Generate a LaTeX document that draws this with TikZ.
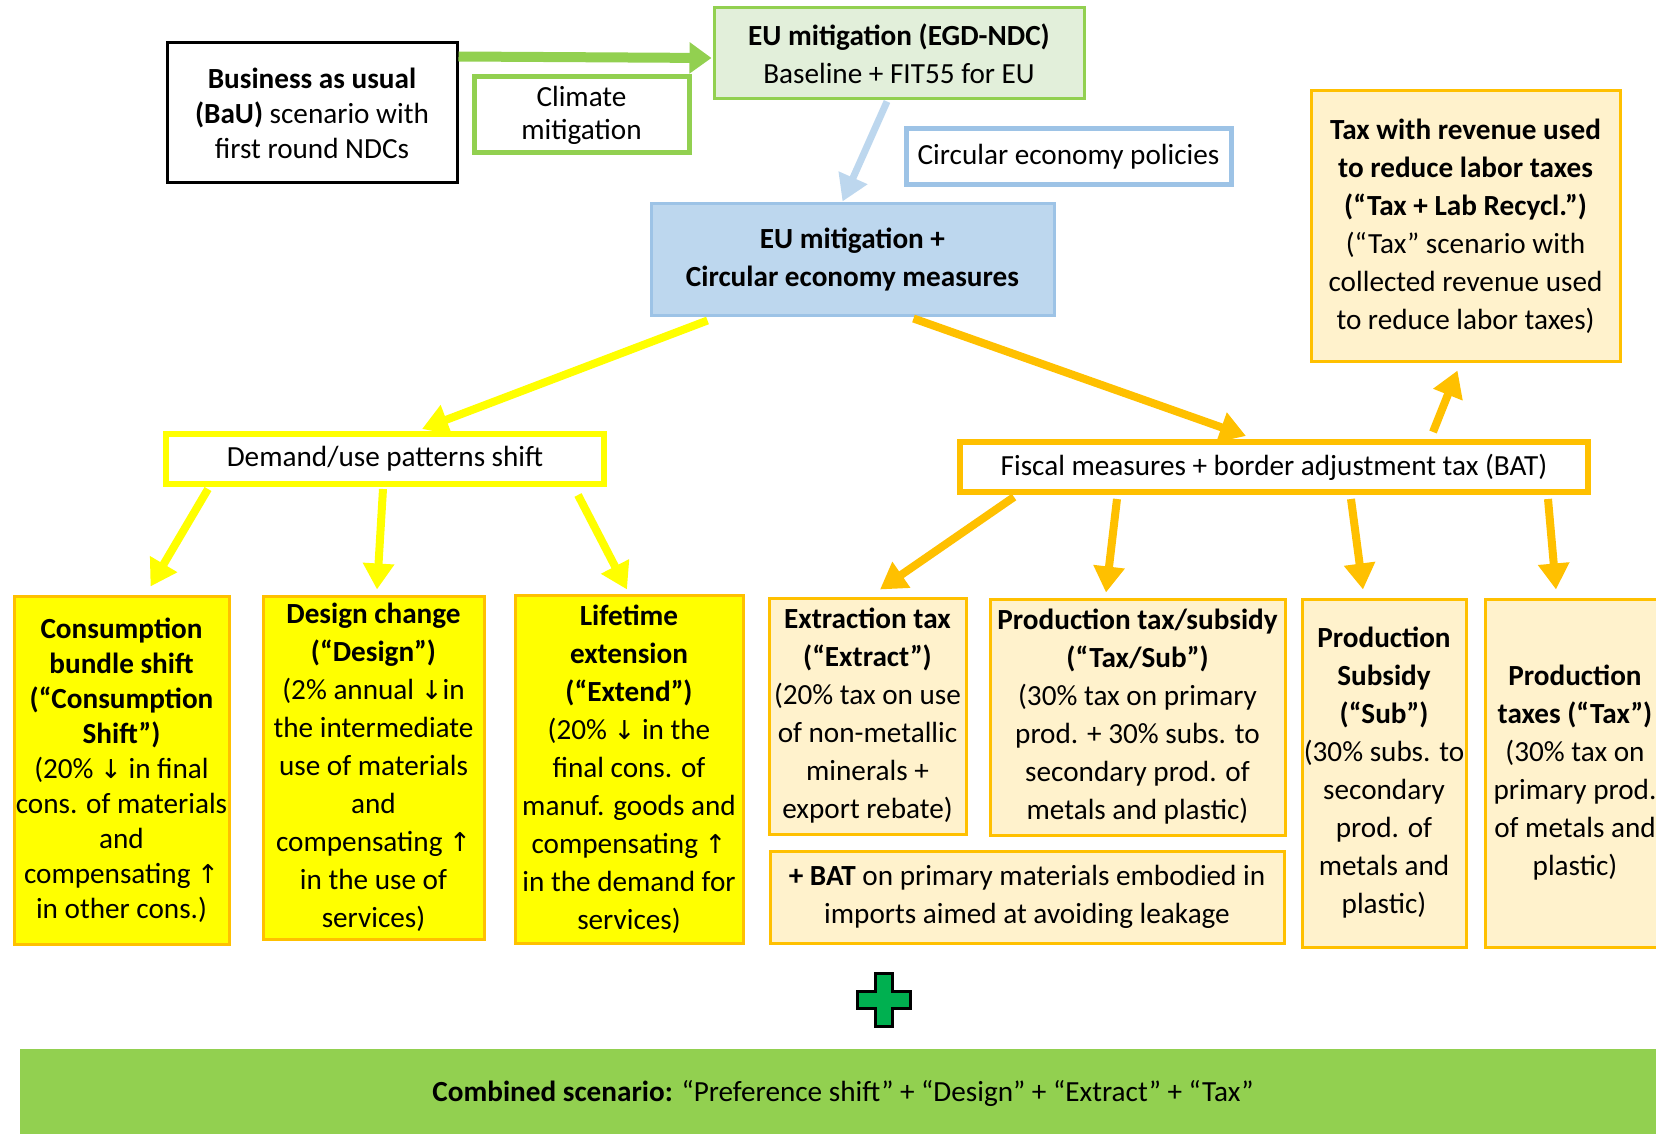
\documentclass[tikz,border=0pt]{standalone}
\usepackage{fontspec}
\setmainfont{Carlito}
\newfontfamily\arw{DejaVu Sans}
\usetikzlibrary{arrows.meta,calc}
\definecolor{cgreen}{HTML}{92D050}
\definecolor{cgreenfill}{HTML}{E2EFDA}
\definecolor{cblue}{HTML}{9DC3E6}
\definecolor{cbluefill}{HTML}{BDD7EE}
\definecolor{cyellow}{HTML}{FFFF00}
\definecolor{corange}{HTML}{FFC000}
\definecolor{corangefill}{HTML}{FFF2CC}
\definecolor{cplus}{HTML}{00B050}
\newcommand{\fsA}{\fontsize{14.6}{19}\selectfont}
\newcommand{\fsB}{\fontsize{14.6}{17.5}\selectfont}
\newcommand{\fsC}{\fontsize{14.6}{16.5}\selectfont}
\newcommand{\dnar}{{\arw\fontsize{13}{13}\selectfont ↓}}
\newcommand{\upar}{{\arw\fontsize{13}{13}\selectfont ↑}}
\tikzset{
  box/.style={draw, rectangle, align=center, inner sep=0pt, font=\fsA},
  yelbox/.style={box, fill=cyellow, draw=corange, line width=1.5pt},
  orbox/.style={box, fill=corangefill, draw=corange, line width=1.5pt},
  arr/.style={line width=4pt, -{Triangle[length=13pt,width=15pt]}},
}
\begin{document}
\begin{tikzpicture}[x=0.5pt,y=-0.5pt]
\useasboundingbox (0,0) rectangle (1656,1134);

% combined bar
\fill[cgreen] (20,1049) rectangle (1670,1145);
\node[font=\fsA] (comb) at (843,1093) {\textbf{Combined scenario:} “Preference shift” + “Design” + “Extract” + “Tax”};

% top boxes
\node[box, font=\fsB, line width=1.5pt, minimum width=145pt, minimum height=70pt] (bau) at (312,113)
  {\textbf{Business as usual}\\\textbf{(BaU)} scenario with\\first round NDCs};
\node[box, font=\fsC, draw=cgreen, line width=2.5pt, minimum width=107.5pt, minimum height=38pt] (clim) at (581.5,115)
  {Climate\\mitigation};
\node[box, fill=cgreenfill, draw=cgreen, line width=1.5pt, minimum width=185pt, minimum height=45.5pt] (eumit) at (899,53.5)
  {\textbf{EU mitigation (EGD-NDC)}\\Baseline + FIT55 for EU};
\node[box, draw=cblue, line width=2.5pt, minimum width=162.5pt, minimum height=28pt] (cepol) at (1068.5,157)
  {Circular economy policies};
\node[box, fill=cbluefill, draw=cblue, line width=1.5pt, minimum width=201.5pt, minimum height=56pt] (euce) at (852.5,260)
  {\textbf{EU mitigation +}\\\textbf{Circular economy measures}};
\node[orbox, minimum width=154.5pt, minimum height=135.5pt] (taxrec) at (1465.5,226.5)
  {\textbf{Tax with revenue used}\\\textbf{to reduce labor taxes}\\\textbf{(“Tax + Lab Recycl.”)}\\(“Tax” scenario with\\collected revenue used\\to reduce labor taxes)};

% middle
\node[box, draw=cyellow, line width=3pt, minimum width=219pt, minimum height=25pt] (demand) at (385,459)
  {Demand/use patterns shift};
\node[box, draw=corange, line width=3pt, minimum width=314pt, minimum height=25pt] (fiscal) at (1274,467)
  {Fiscal measures + border adjustment tax (BAT)};

% bottom yellow
\node[yelbox, font=\fsB, minimum width=107.5pt, minimum height=174pt] (cons) at (121.5,770)
  {\textbf{Consumption}\\\textbf{bundle shift}\\\textbf{(“Consumption}\\\textbf{Shift”)}\\(20\% \dnar\ in final\\cons. of materials\\and\\compensating \upar\\in other cons.)};
\node[yelbox, minimum width=110.5pt, minimum height=171.5pt] (design) at (373.5,767.5)
  {\textbf{Design change}\\\textbf{(“Design”)}\\(2\% annual \dnar in\\the intermediate\\use of materials\\and\\compensating \upar\\in the use of\\services)};
\node[yelbox, minimum width=114pt, minimum height=174pt] (life) at (629,769)
  {\textbf{Lifetime}\\\textbf{extension}\\\textbf{(“Extend”)}\\(20\% \dnar\ in the\\final cons. of\\manuf. goods and\\compensating \upar\\in the demand for\\services)};

% bottom orange
\node[orbox, minimum width=98.5pt, minimum height=118pt] (extr) at (867.5,716)
  {\textbf{Extraction tax}\\\textbf{(“Extract”)}\\(20\% tax on use\\of non-metallic\\minerals +\\export rebate)};
\node[orbox, minimum width=147.5pt, minimum height=118pt] (taxsub) at (1137.5,717)
  {\textbf{Production tax/subsidy}\\\textbf{(“Tax/Sub”)}\\(30\% tax on primary\\prod. + 30\% subs. to\\secondary prod. of\\metals and plastic)};
\node[orbox, minimum width=257pt, minimum height=46pt] (bat) at (1027,897)
  {\textbf{+ BAT} on primary materials embodied in\\imports aimed at avoiding leakage};
\node[orbox, minimum width=82pt, minimum height=174pt] (sub) at (1384,773)
  {\textbf{Production}\\\textbf{Subsidy}\\\textbf{(“Sub”)}\\(30\% subs. to\\secondary\\prod. of\\metals and\\plastic)};
\node[orbox, minimum width=90pt, minimum height=174pt] (tax) at (1575,773)
  {\textbf{Production}\\\textbf{taxes (“Tax”)}\\(30\% tax on\\primary prod.\\of metals and\\plastic)};

% plus sign
\draw[fill=cplus, line width=1.2pt] (875.5,973.5) -- (892.5,973.5) -- (892.5,991.5) -- (910.5,991.5)
  -- (910.5,1008.5) -- (892.5,1008.5) -- (892.5,1026.5) -- (875.5,1026.5) -- (875.5,1008.5)
  -- (857.5,1008.5) -- (857.5,991.5) -- (875.5,991.5) -- cycle;

% connectors
\draw[arr, cgreen, line width=5pt, -{Triangle[length=11pt,width=15pt]}] ($(bau.north east)+(0,15)$) -- ($(eumit.west)+(-1,4.5)$);
\draw[arr, cbluefill, line width=3.5pt] ($(eumit.south)+(-12,1)$) -- ($(euce.north)+(-10,-1)$);
\draw[arr, cyellow] ($(euce.south)+(-145,3)$) -- ($(demand.north)+(37,-2)$);
\draw[arr, corange] ($(euce.south)+(61,1)$) -- ($(fiscal.north)+(-28,-3)$);
\draw[arr, corange] ($(fiscal.north)+(159,-7)$) -- ($(taxrec.south)+(-8,7)$);
\draw[arr, cyellow] ($(demand.south)+(-177,2)$) -- ($(cons.north)+(29,-8)$);
\draw[arr, cyellow] ($(demand.south)+(-2,2)$) -- ($(design.north)+(3.5,-5)$);
\draw[arr, cyellow] ($(demand.south)+(193,8)$) -- ($(life.north)+(-2,-4)$);
\draw[arr, corange] ($(fiscal.south)+(-260,2)$) -- ($(extr.north)+(12.5,-7)$);
\draw[arr, corange] ($(fiscal.south)+(-157,4)$) -- ($(taxsub.north)+(-31.5,-5)$);
\draw[arr, corange] ($(fiscal.south)+(77,4)$) -- ($(sub.north)+(-21,-8)$);
\draw[arr, corange] ($(fiscal.south)+(274,4)$) -- ($(tax.north)+(-19,-8)$);
\end{tikzpicture}
\end{document}
